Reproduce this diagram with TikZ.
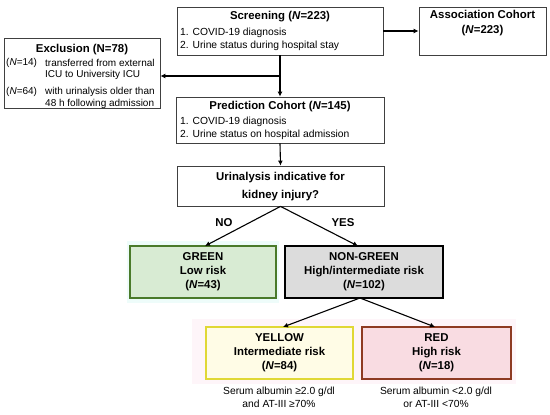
\documentclass[tikz,border=0pt]{standalone}
\usepackage{fontspec}
\setmainfont{Liberation Sans}
\usetikzlibrary{arrows.meta}
\definecolor{grfill}{HTML}{D8EBD3}
\definecolor{grdraw}{HTML}{4A7A2A}
\definecolor{grglow}{HTML}{EEFCFA}
\definecolor{gyfill}{HTML}{DCDCDC}
\definecolor{yefill}{HTML}{FFFCE6}
\definecolor{yedraw}{HTML}{E0D835}
\definecolor{rdfill}{HTML}{F9DCE2}
\definecolor{rddraw}{HTML}{8E3B22}
\definecolor{pkglow}{HTML}{FEF5F9}
\tikzset{
  box/.style={draw=black!75, line width=0.8pt, rectangle, inner sep=0pt},
  ttl/.style={font=\fontsize{11.4}{13.5}\selectfont\bfseries, inner sep=0pt, align=center},
  bdy/.style={font=\fontsize{10.3}{12.5}\selectfont, inner sep=0pt, anchor=west},
  exb/.style={bdy, font=\fontsize{10}{12}\selectfont},
  arr/.style={-{Latex[length=5pt,width=5pt]}, line width=1.1pt},
}
\begin{document}
\begin{tikzpicture}[x=1pt,y=-1pt]
\useasboundingbox (0,0) rectangle (550,415);
% glows
\fill[grglow] (127,241) rectangle (279,303);
\fill[pkglow] (192,319) rectangle (516,384);
% boxes
\node[box, minimum width=206pt, minimum height=48pt] (scr) at (280,31) {};
\node[box, minimum width=127pt, minimum height=48pt] (asc) at (482.5,31) {};
\node[box, minimum width=156pt, minimum height=70pt] (exc) at (82,73) {};
\node[box, minimum width=208pt, minimum height=46pt] (pre) at (280,120) {};
\node[box, minimum width=207pt, minimum height=40pt] (uri) at (280.5,186) {};
\node[box, draw=grdraw, fill=grfill, line width=1.6pt, minimum width=146pt, minimum height=52pt] (grn) at (203,272) {};
\node[box, draw=black, fill=gyfill, line width=1.8pt, minimum width=158pt, minimum height=52pt] (ngr) at (364,272) {};
\node[box, draw=yedraw, fill=yefill, line width=1.6pt, minimum width=147pt, minimum height=52pt] (yel) at (279.5,353) {};
\node[box, draw=rddraw, fill=rdfill, line width=1.6pt, minimum width=149pt, minimum height=52pt] (red) at (436.5,353) {};
% texts
\node[ttl] (scrt) at (280,17) {Screening (\textit{N}=223)};
\node[bdy] (scr1) at (180,33) {1. COVID-19 diagnosis};
\node[bdy] (scr2) at (180,46) {2. Urine status during hospital stay};
\node[ttl, font=\fontsize{11.4}{15}\selectfont\bfseries] (asct) at (482.5,23.5) {Association Cohort\\(\textit{N}=223)};
\node[ttl] (exct) at (82,50) {Exclusion (N=78)};
\node[exb] (exn1) at (6,63) {(\textit{N}=14)};
\node[exb] (exa1) at (45,63) {transferred from external};
\node[exb] (exa2) at (45,75) {ICU to University ICU};
\node[exb] (exn2) at (6,92) {(\textit{N}=64)};
\node[exb] (exb1) at (45,92) {with urinalysis older than};
\node[exb] (exb2) at (45,104) {48 h following admission};
\node[ttl] (pret) at (280,107) {Prediction Cohort (\textit{N}=145)};
\node[bdy] (pre1) at (180,122) {1. COVID-19 diagnosis};
\node[bdy] (pre2) at (180,135) {2. Urine status on hospital admission};
\node[ttl, font=\fontsize{11.4}{18}\selectfont\bfseries] (urit) at (280.5,187) {Urinalysis indicative for\\kidney injury?};
\node[ttl, font=\fontsize{11.4}{14}\selectfont\bfseries] (grnt) at (203,272) {GREEN\\Low risk\\(\textit{N}=43)};
\node[ttl, font=\fontsize{11.4}{14}\selectfont\bfseries] (ngrt) at (364,272) {NON-GREEN\\High/intermediate risk\\(\textit{N}=102)};
\node[ttl, font=\fontsize{11.4}{14}\selectfont\bfseries] (yelt) at (279.5,353) {YELLOW\\Intermediate risk\\(\textit{N}=84)};
\node[ttl, font=\fontsize{11.4}{14}\selectfont\bfseries] (redt) at (436.5,353) {RED\\High risk\\(\textit{N}=18)};
\node[bdy, anchor=center, align=center, font=\fontsize{10.3}{13.5}\selectfont] (yelc) at (279,397.5) {Serum albumin ≥2.0 g/dl\\and AT-III ≥70\%};
\node[bdy, anchor=center, align=center, font=\fontsize{10.3}{13.5}\selectfont] (redc) at (436,397.5) {Serum albumin <2.0 g/dl\\or AT-III <70\%};
\node[ttl] (no) at (224,223) {NO};
\node[ttl] (yes) at (343,223) {YES};
% connectors
\coordinate (j) at (280,76);
\draw[arr] (scr.south) -- (pre.north);
\draw[arr] (j) -- (exc.east |- j);
\draw[arr] (scr.east) -- (asc.west);
\draw[arr] (pre.south) -- (uri.north);
\coordinate (gt) at (205,246);
\coordinate (nt) at (358,246);
\draw[arr] (uri.south) -- (gt);
\draw[arr] (uri.south) -- (nt);
\coordinate (nb) at (360,298);
\coordinate (yt) at (283,327);
\coordinate (rt) at (435,327);
\draw[arr] (nb) -- (yt);
\draw[arr] (nb) -- (rt);
\end{tikzpicture}
\end{document}
